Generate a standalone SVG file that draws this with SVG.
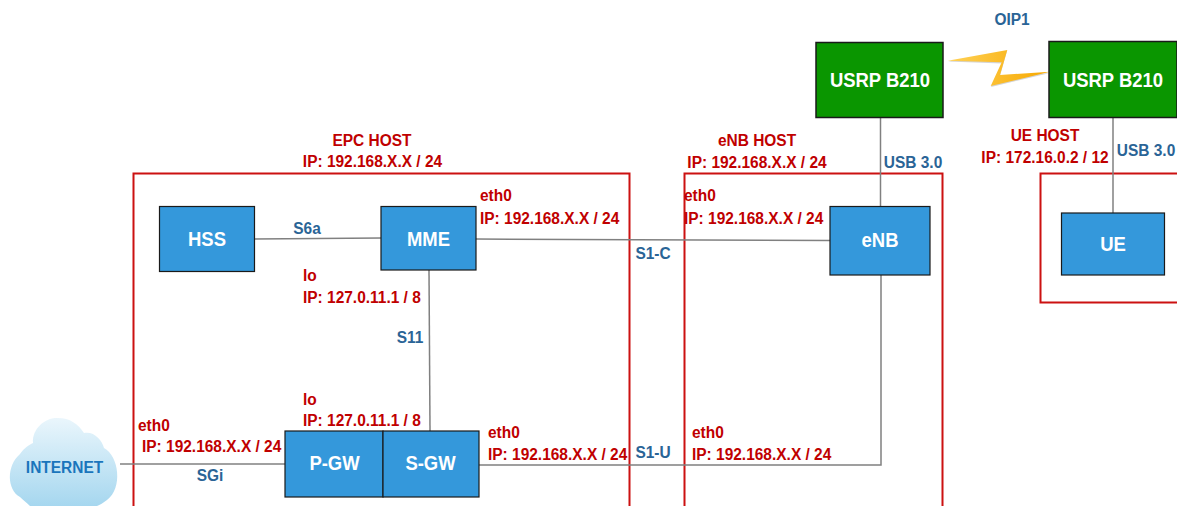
<svg xmlns="http://www.w3.org/2000/svg" width="1177" height="506" viewBox="0 0 1177 506">
<style>
text{font-family:"Liberation Sans",Arial,sans-serif;font-weight:700}
.r{fill:#c00000;font-size:17px}
.b{fill:#2a6496;font-size:17px}
.m{text-anchor:middle}
.w{fill:#fff;font-size:20.300px;text-anchor:middle}
.n{fill:#3498db;stroke:#1a1a1a;stroke-width:1.2}
.g{fill:#0a9600;stroke:#1a1a1a;stroke-width:1.5}
.h{fill:none;stroke:#cc1111;stroke-width:2}
.c{fill:none;stroke:#808080;stroke-width:1.500}
</style>
<defs>
<linearGradient id="cl" x1="0" y1="0" x2="0" y2="1"><stop offset="0" stop-color="#eaf6fc"/><stop offset="1" stop-color="#a6d7ef"/></linearGradient>
<linearGradient id="zz" x1="0" y1="0" x2="1" y2="0"><stop offset="0" stop-color="#ffd257"/><stop offset="1" stop-color="#f7a800"/></linearGradient>
</defs>
<g id="hosts">
<path class="h" d="M133.500 506V173.500H629.500V506"/>
<path class="h" d="M684.500 506V173.500H942.500V506"/>
<path class="h" d="M1177 173.500H1040.500V302.500H1177"/>
</g>
<g id="connectors">
<path class="c" d="M254 239L381 238"/>
<path class="c" d="M476 239L830 240.500"/>
<path class="c" d="M429 270L430 431"/>
<path class="c" d="M120 464H285"/>
<path class="c" d="M479 465H881V275"/>
<path class="c" d="M880.500 117V206"/>
<path class="c" d="M1113 117V213"/>
</g>
<g id="oip1-link">
<path d="M948 61.500L1007 51L1000 76L1050 73L991 87L1002 63.500Z" fill="#b0b0b0" opacity=".55"/>
<path d="M947.700 60.700L1007.300 50L1000 75L1050 71.700L990.700 86L1001.700 62.300Z" fill="url(#zz)"/>
</g>
<g id="internet">
<path d="M20 497C7 490 6 466 20 454C24 448 29 445 33 443C32 428 46 417 58 418C70 418 78 424 84 433C94 431 102 440 104 448C119 456 123 488 107 500C103 503 100 505 97 506H30C27 503 23 500 20 497Z" fill="url(#cl)"/>
<text transform="matrix(.91 0 0 1 64.500 473)" style="fill:#1a75bc;font-size:17px" text-anchor="middle">INTERNET</text>
</g>
<g id="hss"><rect class="n" x="159.500" y="206.500" width="95" height="65"/><text class="w" transform="matrix(.91 0 0 1 207 246)">HSS</text></g>
<g id="mme"><rect class="n" x="381" y="206.500" width="95" height="63.500"/><text class="w" transform="matrix(.91 0 0 1 428.500 246)">MME</text></g>
<g id="pgw"><rect class="n" x="285" y="431" width="98" height="66"/><text class="w" transform="matrix(.91 0 0 1 334.500 470)">P-GW</text></g>
<g id="sgw"><rect class="n" x="383" y="431" width="96" height="66"/><text class="w" transform="matrix(.91 0 0 1 430.500 470)">S-GW</text></g>
<g id="enb"><rect class="n" x="830" y="206.500" width="100" height="68.500"/><text class="w" transform="matrix(.91 0 0 1 880 247)">eNB</text></g>
<g id="ue"><rect class="n" x="1061.500" y="213" width="103" height="62"/><text class="w" transform="matrix(.91 0 0 1 1113 251)">UE</text></g>
<g id="usrp-enb"><rect class="g" x="816" y="42.500" width="127" height="75"/><text class="w" transform="matrix(.91 0 0 1 880 87)">USRP B210</text></g>
<g id="usrp-ue"><rect class="g" x="1049" y="41.500" width="128" height="76"/><text class="w" transform="matrix(.91 0 0 1 1113 87)">USRP B210</text></g>
<g id="labels">
<text class="r m" transform="matrix(.91 0 0 1 372 146)">EPC HOST</text>
<text class="r m" transform="matrix(.91 0 0 1 372.500 167)">IP: 192.168.X.X / 24</text>
<text class="r m" transform="matrix(.91 0 0 1 757 146)">eNB HOST</text>
<text class="r m" transform="matrix(.91 0 0 1 757 168)">IP: 192.168.X.X / 24</text>
<text class="r m" transform="matrix(.91 0 0 1 1045 141)">UE HOST</text>
<text class="r m" transform="matrix(.91 0 0 1 1045 163)">IP: 172.16.0.2 / 12</text>
<text class="r" transform="matrix(.91 0 0 1 480 201)">eth0</text>
<text class="r" transform="matrix(.91 0 0 1 480 224)">IP: 192.168.X.X / 24</text>
<text class="r" transform="matrix(.91 0 0 1 684 201)">eth0</text>
<text class="r" transform="matrix(.91 0 0 1 684 224)">IP: 192.168.X.X / 24</text>
<text class="r" transform="matrix(.91 0 0 1 303 281)">lo</text>
<text class="r" transform="matrix(.91 0 0 1 303 303)">IP: 127.0.11.1 / 8</text>
<text class="r" transform="matrix(.91 0 0 1 303 405)">lo</text>
<text class="r" transform="matrix(.91 0 0 1 303 426)">IP: 127.0.11.1 / 8</text>
<text class="r" transform="matrix(.91 0 0 1 138 431)">eth0</text>
<text class="r" transform="matrix(.91 0 0 1 142 452)">IP: 192.168.X.X / 24</text>
<text class="r" transform="matrix(.91 0 0 1 488 438)">eth0</text>
<text class="r" transform="matrix(.91 0 0 1 488 460)">IP: 192.168.X.X / 24</text>
<text class="r" transform="matrix(.91 0 0 1 692 438)">eth0</text>
<text class="r" transform="matrix(.91 0 0 1 692 460)">IP: 192.168.X.X / 24</text>
<text class="b m" transform="matrix(.91 0 0 1 1012 25)">OIP1</text>
<text class="b m" transform="matrix(.91 0 0 1 913 168)">USB 3.0</text>
<text class="b m" transform="matrix(.91 0 0 1 1146 156)">USB 3.0</text>
<text class="b m" transform="matrix(.91 0 0 1 307 234)">S6a</text>
<text class="b m" transform="matrix(.91 0 0 1 653 259)">S1-C</text>
<text class="b m" transform="matrix(.91 0 0 1 410 343)">S11</text>
<text class="b m" transform="matrix(.91 0 0 1 653 458)">S1-U</text>
<text class="b m" transform="matrix(.91 0 0 1 210 481)">SGi</text>
</g>
</svg>
